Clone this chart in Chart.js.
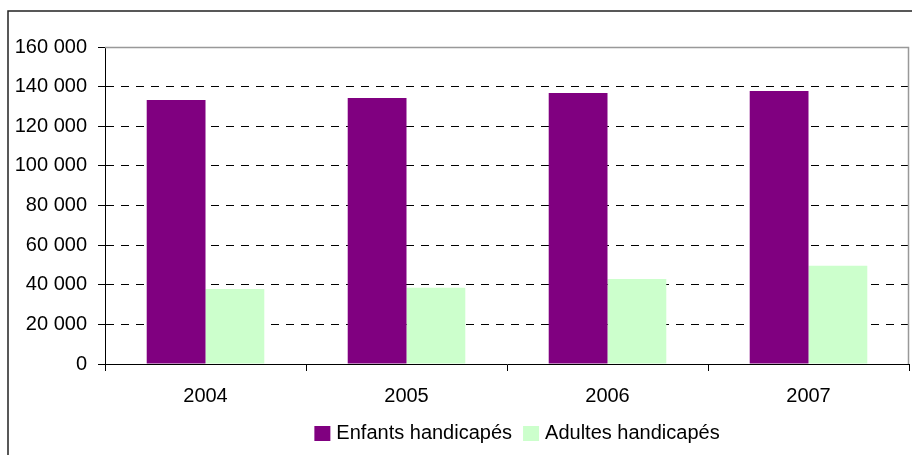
<!DOCTYPE html>
<html>
<head>
<meta charset="utf-8">
<script src="https://cdn.jsdelivr.net/npm/chart.js@4/dist/chart.umd.min.js"></script>
<style>
  html, body { margin: 0; padding: 0; background: #fff; }
  #wrap { position: relative; width: 912px; height: 455px; overflow: hidden; }
  canvas { display: block; }
</style>
</head>
<body>
<div id="wrap"><canvas id="c" width="912" height="455"></canvas></div>
<script>
// Bénéficiaires par année
const years = ['2004', '2005', '2006', '2007'];
const enfants = [133200, 134300, 136800, 137800];   // Enfants handicapés
const adultes = [37900, 38500, 42900, 49600];       // Adultes handicapés
const seriesNames = ['Enfants handicapés', 'Adultes handicapés'];
const seriesColors = ['#800080', '#CCFFCC'];
const yMin = 0, yMax = 160000, yStep = 20000;

const FONT = "'Liberation Sans', Arial, sans-serif";
const FONT_SIZE = 20;

function fmt(v) {
  return String(v).replace(/\B(?=(\d{3})+(?!\d))/g, ' ');
}

// white background, outer frame and grey plot border
const framePlugin = {
  id: 'frame',
  beforeDraw(chart) {
    const ctx = chart.ctx;
    ctx.save();
    ctx.fillStyle = '#fff';
    ctx.fillRect(0, 0, chart.width, chart.height);
    ctx.strokeStyle = '#222';
    ctx.lineWidth = 1.5;
    ctx.beginPath();
    ctx.moveTo(8, chart.height + 2);
    ctx.lineTo(8, 11);
    ctx.lineTo(chart.width + 2, 11);
    ctx.stroke();
    ctx.restore();
  },
  afterDraw(chart) {
    const a = chart.chartArea;
    const ctx = chart.ctx;
    ctx.save();
    ctx.strokeStyle = '#999';
    ctx.lineWidth = 1.5;
    ctx.beginPath();
    ctx.moveTo(a.left, a.top + 0.5);
    ctx.lineTo(a.right - 0.5, a.top + 0.5);
    ctx.lineTo(a.right - 0.5, a.bottom);
    ctx.stroke();
    ctx.restore();
  }
};

// legend drawn under the axis: square, small gap, label
const legendPlugin = {
  id: 'bottomLegend',
  afterDraw(chart) {
    const ctx = chart.ctx;
    ctx.save();
    ctx.font = FONT_SIZE + 'px ' + FONT;
    ctx.textBaseline = 'middle';
    const box = 16, gapBox = 6, gapItem = 11;
    const items = chart.data.datasets.map(ds => ({
      label: ds.label, color: ds.backgroundColor, w: ctx.measureText(ds.label).width
    }));
    let total = 0;
    items.forEach((it, i) => { total += box + gapBox + it.w + (i ? gapItem : 0); });
    let x = 517 - total / 2;
    const cy = 433;
    items.forEach(it => {
      ctx.fillStyle = it.color;
      ctx.fillRect(x, cy - 7, box, 15);
      x += box + gapBox;
      ctx.fillStyle = '#000';
      ctx.fillText(it.label, x, cy);
      x += it.w + gapItem;
    });
    ctx.restore();
  }
};

new Chart(document.getElementById('c'), {
  type: 'bar',
  data: {
    labels: years,
    datasets: [
      { label: seriesNames[0], data: enfants, backgroundColor: seriesColors[0] },
      { label: seriesNames[1], data: adultes, backgroundColor: seriesColors[1] }
    ]
  },
  options: {
    responsive: false,
    animation: false,
    devicePixelRatio: 1,
    layout: { padding: { top: 47, right: 3, bottom: 0, left: 0 } },
    datasets: { bar: { categoryPercentage: 0.585, barPercentage: 1, borderWidth: 0 } },
    plugins: {
      legend: { display: false },
      title: { display: false },
      tooltip: { enabled: false }
    },
    scales: {
      x: {
        offset: true,
        grid: { offset: true, drawOnChartArea: false, drawTicks: true, tickLength: 7, tickColor: '#000', tickWidth: 1 },
        border: { display: true, color: '#000', width: 1 },
        ticks: { color: '#000', padding: 13, font: { family: FONT, size: FONT_SIZE } },
        afterFit(scale) { scale.height = 91; }
      },
      y: {
        min: yMin, max: yMax,
        grid: {
          color: (c) => (c.tick && (c.tick.value === yMin || c.tick.value === yMax)) ? 'rgba(0,0,0,0)' : '#000',
          lineWidth: 1,
          drawTicks: true, tickLength: 7, tickColor: '#000', tickWidth: 1
        },
        border: { display: true, color: '#000', width: 1, dash: [8, 7] },
        ticks: {
          stepSize: yStep, color: '#000', padding: 11,
          font: { family: FONT, size: FONT_SIZE },
          callback: (v) => fmt(v)
        },
        afterFit(scale) { scale.width = 105; }
      }
    }
  },
  plugins: [framePlugin, legendPlugin]
});
</script>
</body>
</html>
